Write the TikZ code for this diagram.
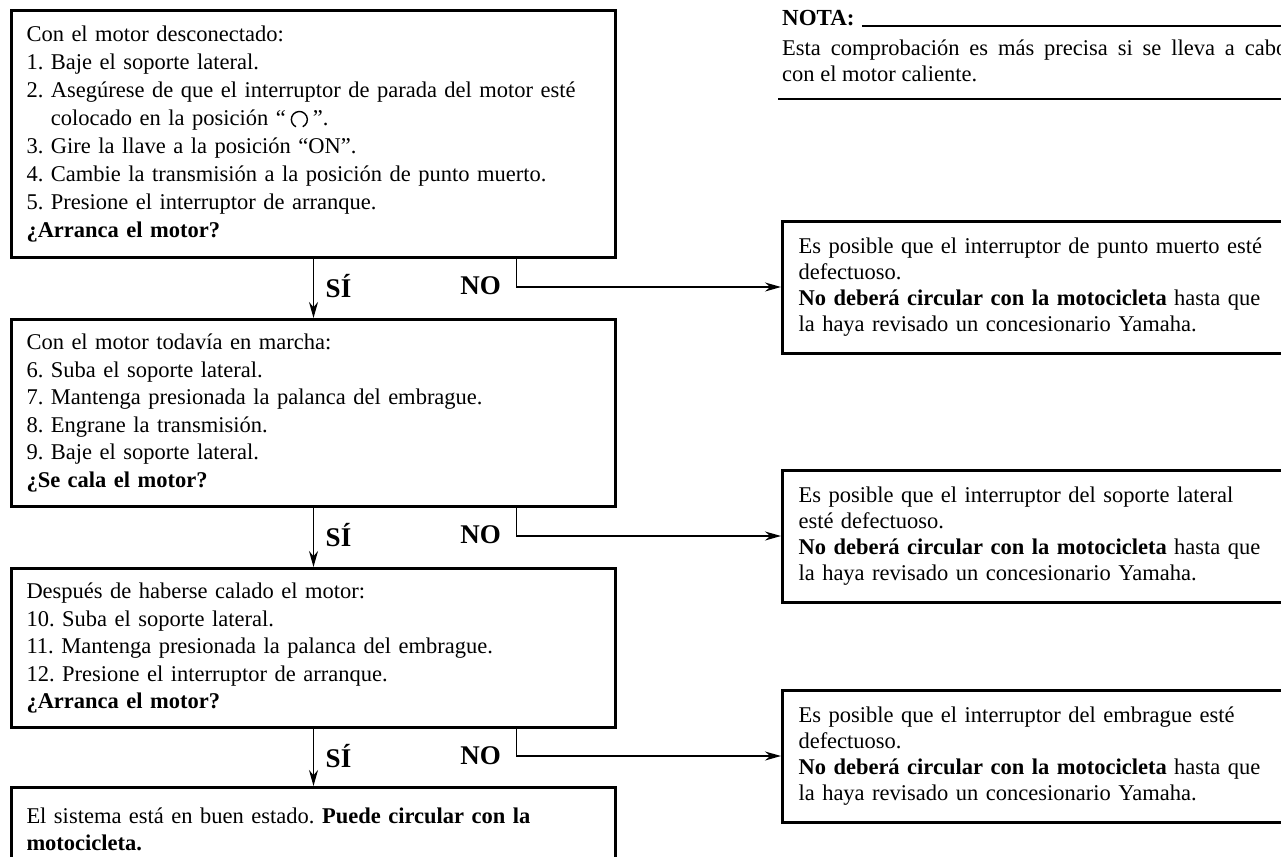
\documentclass[tikz,border=0pt]{standalone}
\usepackage{fontspec}
\setmainfont{Liberation Serif}
\usetikzlibrary{positioning,arrows.meta,calc}
\frenchspacing

% run position symbol of the engine stop switch
\newcommand{\runsym}{\tikz[baseline=0pt]\draw[line width=1.4pt] (0pt,6pt) ++(-65:8pt) arc[start angle=-65, end angle=245, radius=8pt];}

\begin{document}
\begin{tikzpicture}[
  x=1pt, y=-1pt,
  font=\fontsize{22.5}{27.5}\selectfont,
  arr/.style={-{Stealth[length=16pt,width=9pt]}, line width=1.6pt},
  ans/.style={font=\fontsize{27}{30}\selectfont\bfseries},
  stepbox/.style={draw, line width=3pt, anchor=north west, minimum width=604pt, text width=574pt, inner xsep=15pt, align=left},
  warnbox/.style={draw, line width=3pt, anchor=west, minimum height=132pt, text width=490pt, inner xsep=16pt, align=left, font=\fontsize{22.5}{26}\selectfont},
  rule/.style={line width=2pt}
]
\useasboundingbox (0,0) rectangle (1281,856);

% Check steps (left column)
\node[stepbox, minimum height=247pt, font=\fontsize{22.5}{28}\selectfont] (b1) at (10,9) {Con el motor desconectado:\\
1. Baje el soporte lateral.\\
2. Asegúrese de que el interruptor de parada del motor esté\\
\phantom{2. }colocado en la posición “\,\runsym\,”.\\
3. Gire la llave a la posición “ON”.\\
4. Cambie la transmisión a la posición de punto muerto.\\
5. Presione el interruptor de arranque.\\
\textbf{¿Arranca el motor?}};

\node[stepbox, minimum height=187pt] (b2) at (10,318) {Con el motor todavía en marcha:\\
6. Suba el soporte lateral.\\
7. Mantenga presionada la palanca del embrague.\\
8. Engrane la transmisión.\\
9. Baje el soporte lateral.\\
\textbf{¿Se cala el motor?}};

\node[stepbox, minimum height=159pt] (b3) at (10,567) {Después de haberse calado el motor:\\
10. Suba el soporte lateral.\\
11. Mantenga presionada la palanca del embrague.\\
12. Presione el interruptor de arranque.\\
\textbf{¿Arranca el motor?}};

\node[stepbox, minimum height=84pt] (b4) at (10,786) {El sistema está en buen estado. \textbf{Puede circular con la}\\
\textbf{motocicleta.}};

% Faults (right column)
\node[warnbox] (r1) at (781,287) {Es posible que el interruptor de punto muerto esté\\
defectuoso.\\
\textbf{No deberá circular con la motocicleta} hasta que\\
la haya revisado un concesionario Yamaha.};

\node[warnbox] (r2) at (781,536) {Es posible que el interruptor del soporte lateral\\
esté defectuoso.\\
\textbf{No deberá circular con la motocicleta} hasta que\\
la haya revisado un concesionario Yamaha.};

\node[warnbox] (r3) at (781,756) {Es posible que el interruptor del embrague esté\\
defectuoso.\\
\textbf{No deberá circular con la motocicleta} hasta que\\
la haya revisado un concesionario Yamaha.};

% Yes branches
\draw[arr] (b1.south) -- (b2.north);
\draw[arr] (b2.south) -- (b3.north);
\draw[arr] (b3.south) -- (b4.north);
\node[ans] (si1) at ($(b1.south)+(25,27)$) {SÍ};
\node[ans] (si2) at ($(b2.south)+(25,27)$) {SÍ};
\node[ans] (si3) at ($(b3.south)+(25,27)$) {SÍ};

% No branches
\coordinate (no1) at ($(b1.south)+(203,0)$);
\coordinate (no2) at ($(b2.south)+(203,0)$);
\coordinate (no3) at ($(b3.south)+(203,0)$);
\draw[arr] (no1) |- (r1.west);
\draw[arr] (no2) |- (r2.west);
\draw[arr] (no3) |- (r3.west);
\node[ans] (n1) at ($(b1.south)+(167,27)$) {NO};
\node[ans] (n2) at ($(b2.south)+(167,27)$) {NO};
\node[ans] (n3) at ($(b3.south)+(167,27)$) {NO};

% Note
\node[anchor=base west, inner sep=0pt, font=\fontsize{23}{26}\selectfont\bfseries] (nota) at (782,26) {NOTA:};
\coordinate (notaend) at (1290,26);
\draw[rule] ($(nota.base east)+(7,0)$) -- (notaend);
\node[anchor=north west, inner sep=0pt, text width=505pt, align=justify, font=\fontsize{22.5}{25.5}\selectfont] (notatxt) at (782,40) {Esta comprobación es más precisa si se lleva a cabo\linebreak con el motor caliente.};
\coordinate (notal) at (778,99);
\coordinate (notar) at (1290,99);
\draw[rule] (notal) -- (notar);

\end{tikzpicture}
\end{document}
